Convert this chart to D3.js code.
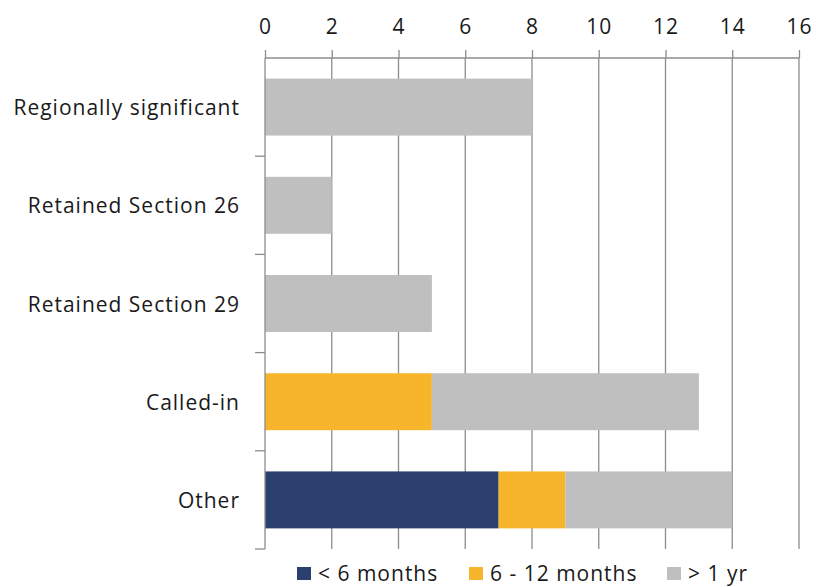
<!DOCTYPE html>
<html>
<head>
<meta charset="utf-8">
<script src="https://cdn.jsdelivr.net/npm/d3@7"></script>
<style>
  html, body { margin: 0; padding: 0; background: #fff; }
  svg text { font-family: "Open Sans", "Lato", sans-serif; fill: #1a1a1a; letter-spacing: 1px; }
</style>
</head>
<body>
<svg id="chart" width="816" height="587"></svg>
<script>
// Categories (top to bottom) and the duration series stacked along each bar
const categories = ["Regionally significant", "Retained Section 26", "Retained Section 29", "Called-in", "Other"];
const seriesNames = ["< 6 months", "6 - 12 months", "> 1 yr"];
const under6 = [0, 0, 0, 0, 7];
const sixTo12 = [0, 0, 0, 5, 2];
const overYear = [8, 2, 5, 8, 5];
const xTicks = [0, 2, 4, 6, 8, 10, 12, 14, 16];
const colors = ["#2c406f", "#f7b52b", "#bfbfbf"];

const svg = d3.select("#chart");
const margin = { top: 58, right: 17, bottom: 38, left: 265 };
const width = 816 - margin.left - margin.right;
const height = 587 - margin.top - margin.bottom;

const rows = categories.map((c, i) => ({
  category: c,
  [seriesNames[0]]: under6[i],
  [seriesNames[1]]: sixTo12[i],
  [seriesNames[2]]: overYear[i]
}));
const stacked = d3.stack().keys(seriesNames)(rows);

const x = d3.scaleLinear().domain([0, 16]).range([0, width]);
const y = d3.scaleBand().domain(categories).range([0, height]).paddingInner(0.42).paddingOuter(0.21);
const yEdge = d3.scaleBand().domain(categories).range([0, height]);

const g = svg.append("g").attr("transform", `translate(${margin.left},${margin.top})`);
const gridColor = "#8c8c8c";

// vertical gridlines
g.append("g").selectAll("line").data(xTicks.slice(1)).join("line")
  .attr("x1", d => x(d)).attr("x2", d => x(d))
  .attr("y1", 0).attr("y2", height)
  .attr("stroke", gridColor).attr("stroke-width", 1.3);

// stacked bars
g.append("g").selectAll("g").data(stacked).join("g")
  .attr("fill", (d, i) => colors[i])
  .selectAll("rect").data(d => d).join("rect")
  .attr("x", d => x(d[0]))
  .attr("width", d => x(d[1]) - x(d[0]))
  .attr("y", d => y(d.data.category))
  .attr("height", y.bandwidth());

// top value axis
const xAxis = g.append("g").call(d3.axisTop(x).tickValues(xTicks).tickSize(8).tickPadding(16));
xAxis.select(".domain").attr("stroke", gridColor).attr("stroke-width", 1.3).attr("d", `M0,0H${width}`);
xAxis.selectAll(".tick line").attr("stroke", gridColor).attr("stroke-width", 1.3);
xAxis.selectAll(".tick text").attr("font-size", 21).attr("fill", "#1a1a1a")
  .style("font-family", "'Open Sans', Lato, sans-serif");

// left category axis: boundary ticks between bands
const yAxisG = g.append("g");
yAxisG.append("line").attr("x1", 0).attr("x2", 0).attr("y1", 0).attr("y2", height)
  .attr("stroke", gridColor).attr("stroke-width", 1.3);
yAxisG.selectAll("line.tk").data(categories).join("line").attr("class", "tk")
  .attr("x1", -10).attr("x2", 0)
  .attr("y1", d => yEdge(d) + yEdge.bandwidth()).attr("y2", d => yEdge(d) + yEdge.bandwidth())
  .attr("stroke", gridColor).attr("stroke-width", 1.3);
yAxisG.selectAll("text").data(categories).join("text")
  .attr("x", -25).attr("y", d => yEdge(d) + yEdge.bandwidth() / 2)
  .attr("text-anchor", "end").attr("dominant-baseline", "central")
  .attr("font-size", 21)
  .text(d => d);

// legend along the bottom
const legendX = [297, 469, 667];
const legend = svg.append("g").selectAll("g").data(seriesNames).join("g")
  .attr("transform", (d, i) => `translate(${legendX[i]},567)`);
legend.append("rect").attr("width", 14).attr("height", 13).attr("fill", (d, i) => colors[i]);
legend.append("text").attr("x", 21).attr("y", 5.5).attr("dominant-baseline", "central")
  .attr("font-size", 21).text(d => d);
</script>
</body>
</html>
